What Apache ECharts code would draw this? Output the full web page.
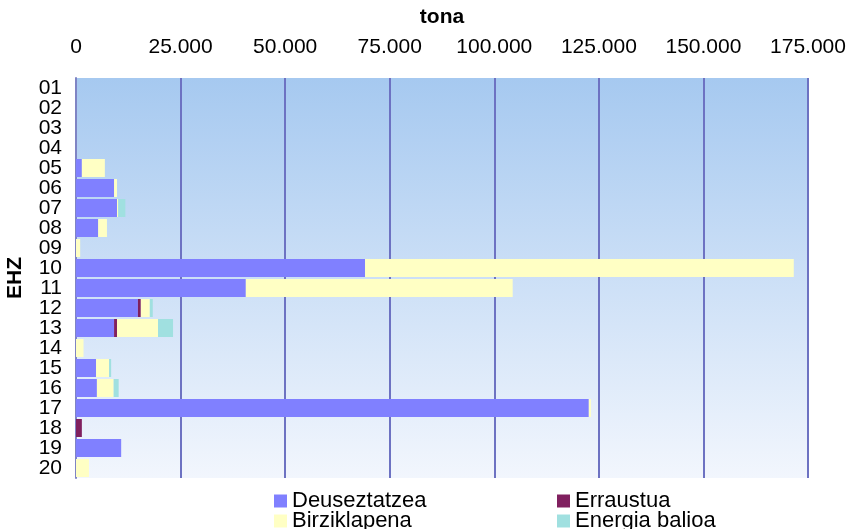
<!DOCTYPE html>
<html>
<head>
<meta charset="utf-8">
<script src="https://cdn.jsdelivr.net/npm/echarts@6/dist/echarts.min.js"></script>
<style>html,body{margin:0;padding:0;background:#fff}#c{width:850px;height:529px}</style>
</head>
<body>
<div id="c"></div>
<script>
var categories = ['01','02','03','04','05','06','07','08','09','10','11','12','13','14','15','16','17','18','19','20'];
var deuseztatzea = [0,0,0,0,1400,9100,9800,5300,0,69100,40600,14800,9100,0,4800,5000,122600,0,10800,0];
var erraustua    = [0,0,0,0,0,0,0,0,0,0,0,700,700,0,0,0,0,1400,0,0];
var birziklapena = [0,0,0,0,5500,700,300,2100,1000,102500,63800,2150,9800,1800,3100,4000,500,0,0,3100];
var energiaBalioa= [0,0,0,0,0,0,1700,0,0,0,0,700,3600,0,500,1200,0,0,0,0];
var xTicks = [0,25000,50000,75000,100000,125000,150000,175000];

var font = 'Liberation Sans, Arial, sans-serif';
function fmt(v){ return String(v).replace(/\B(?=(\d{3})+(?!\d))/g,'.'); }
var chart = echarts.init(document.getElementById('c'), null, {renderer:'canvas'});
function s(name, data, color){
  return {name:name, type:'bar', stack:'t', data:data, barCategoryGap:'10%',
    itemStyle:{color:color}, emphasis:{disabled:true}};
}
function lg(name, left, top){
  return {data:[name], left:left, top:top, padding:0, itemGap:0, itemWidth:13, itemHeight:13, icon:'rect',
    textStyle:{fontFamily:font, fontSize:22, color:'#000'}};
}
chart.setOption({
  animation:false,
  grid:{left:76,right:42,top:78,bottom:51,show:true,borderWidth:0,containLabel:false,outerBoundsMode:'none',
    backgroundColor:{type:'linear',x:0,y:0,x2:0,y2:1,colorStops:[{offset:0,color:'#a6c9f0'},{offset:1,color:'#f2f6fd'}]}},
  xAxis:{type:'value',position:'top',min:xTicks[0],max:xTicks[xTicks.length-1],interval:25000,
    name:'tona',nameLocation:'middle',nameGap:50,
    nameTextStyle:{fontFamily:font,fontSize:21,fontWeight:'bold',color:'#000'},
    axisLine:{show:false},axisTick:{show:false},
    axisLabel:{fontFamily:font,fontSize:21,color:'#000',margin:20,formatter:fmt},
    splitLine:{show:true,lineStyle:{color:'#6d72c2',width:2}}},
  yAxis:{type:'category',inverse:true,data:categories,
    name:'EHZ',nameLocation:'middle',nameGap:50,nameRotate:90,
    nameTextStyle:{fontFamily:font,fontSize:21,fontWeight:'bold',color:'#000'},
    axisLine:{show:true,lineStyle:{color:'#7f84c4',width:2}},axisTick:{show:false},
    axisLabel:{fontFamily:font,fontSize:21,color:'#000',margin:14,interval:0}},
  legend:[
    lg('Deuseztatzea',274,490),
    lg('Birziklapena',274,510),
    lg('Erraustua',557,490),
    lg('Energia balioa',557,510)
  ],
  series:[
    s('Deuseztatzea',deuseztatzea,'#8080ff'),
    s('Erraustua',erraustua,'#80205f'),
    s('Birziklapena',birziklapena,'#ffffc4'),
    s('Energia balioa',energiaBalioa,'#a0e0e0')
  ]
});
</script>
</body>
</html>
